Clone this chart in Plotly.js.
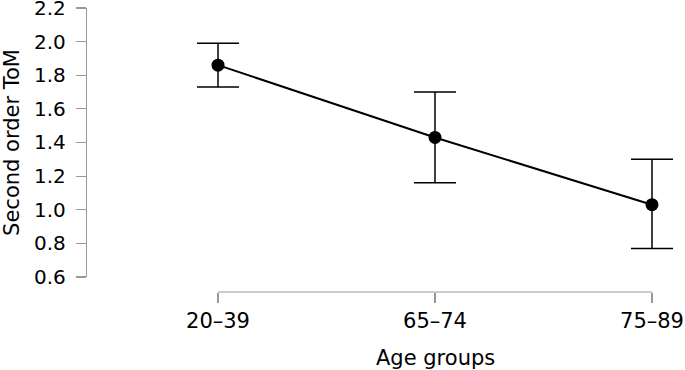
<!DOCTYPE html>
<html>
<head>
<meta charset="utf-8">
<script src="https://cdn.plot.ly/plotly-3.0.1.min.js"></script>
<style>
  html, body { margin: 0; padding: 0; background: #fff; }
  #chart { width: 685px; height: 370px; }
</style>
</head>
<body>
<div id="chart"></div>
<script>
const categories = ["20–39", "65–74", "75–89"];
const means = [1.86, 1.43, 1.03];
const upper = [1.99, 1.70, 1.30];
const lower = [1.73, 1.16, 0.77];
const yTicks = [0.6, 0.8, 1.0, 1.2, 1.4, 1.6, 1.8, 2.0, 2.2];
const xTitle = "Age groups";
const yTitle = "Second order ToM";

const errPlus = means.map((m, i) => +(upper[i] - m).toFixed(3));
const errMinus = means.map((m, i) => +(m - lower[i]).toFixed(3));

const trace = {
  x: categories,
  y: means,
  type: "scatter",
  mode: "lines+markers",
  line: { color: "#000", width: 2 },
  marker: { color: "#000", size: 13 },
  error_y: {
    type: "data",
    symmetric: false,
    array: errPlus,
    arrayminus: errMinus,
    color: "#000",
    thickness: 1.5,
    width: 21
  },
  cliponaxis: false,
  hoverinfo: "skip"
};

const font = "DejaVu Sans, sans-serif";
const axisGrey = "#999";

const layout = {
  width: 685,
  height: 370,
  margin: { l: 87, r: 0, t: 6, b: 78 },
  paper_bgcolor: "#fff",
  plot_bgcolor: "#fff",
  showlegend: false,
  font: { family: font, color: "#000" },
  xaxis: {
    type: "category",
    range: [-0.6037, 2.1521],
    domain: [0, 1],
    anchor: "free",
    position: 0,
    showgrid: false,
    zeroline: false,
    showline: false,
    ticks: "outside",
    ticklen: 10,
    tickwidth: 1.2,
    tickcolor: axisGrey,
    tickfont: { family: font, size: 21, color: "#000" },
    fixedrange: true
  },
  yaxis: {
    range: [0.6, 2.2],
    domain: [0.0524, 0.9931],
    tickvals: yTicks,
    ticktext: yTicks.map(v => v.toFixed(1)),
    ticklabeloverflow: "allow",
    showgrid: false,
    zeroline: false,
    showline: true,
    linecolor: axisGrey,
    linewidth: 1.2,
    ticks: "outside",
    ticklen: 10,
    tickwidth: 1.2,
    tickcolor: axisGrey,
    ticklabelstandoff: 6,
    tickfont: { family: font, size: 20, color: "#000" },
    title: { text: yTitle, font: { family: font, size: 21, color: "#000" }, standoff: 10 },
    fixedrange: true
  },
  shapes: [{
    type: "line",
    xref: "x", yref: "paper",
    x0: 0, x1: 2, y0: 0, y1: 0,
    line: { color: axisGrey, width: 1.2 },
    layer: "above"
  }],
  annotations: [{
    text: xTitle,
    xref: "x", yref: "paper",
    x: 1, y: 0,
    xanchor: "center", yanchor: "middle",
    yshift: -66,
    showarrow: false,
    font: { family: font, size: 21, color: "#000" }
  }]
};

Plotly.newPlot("chart", [trace], layout, { displayModeBar: false, staticPlot: true });
</script>
</body>
</html>
